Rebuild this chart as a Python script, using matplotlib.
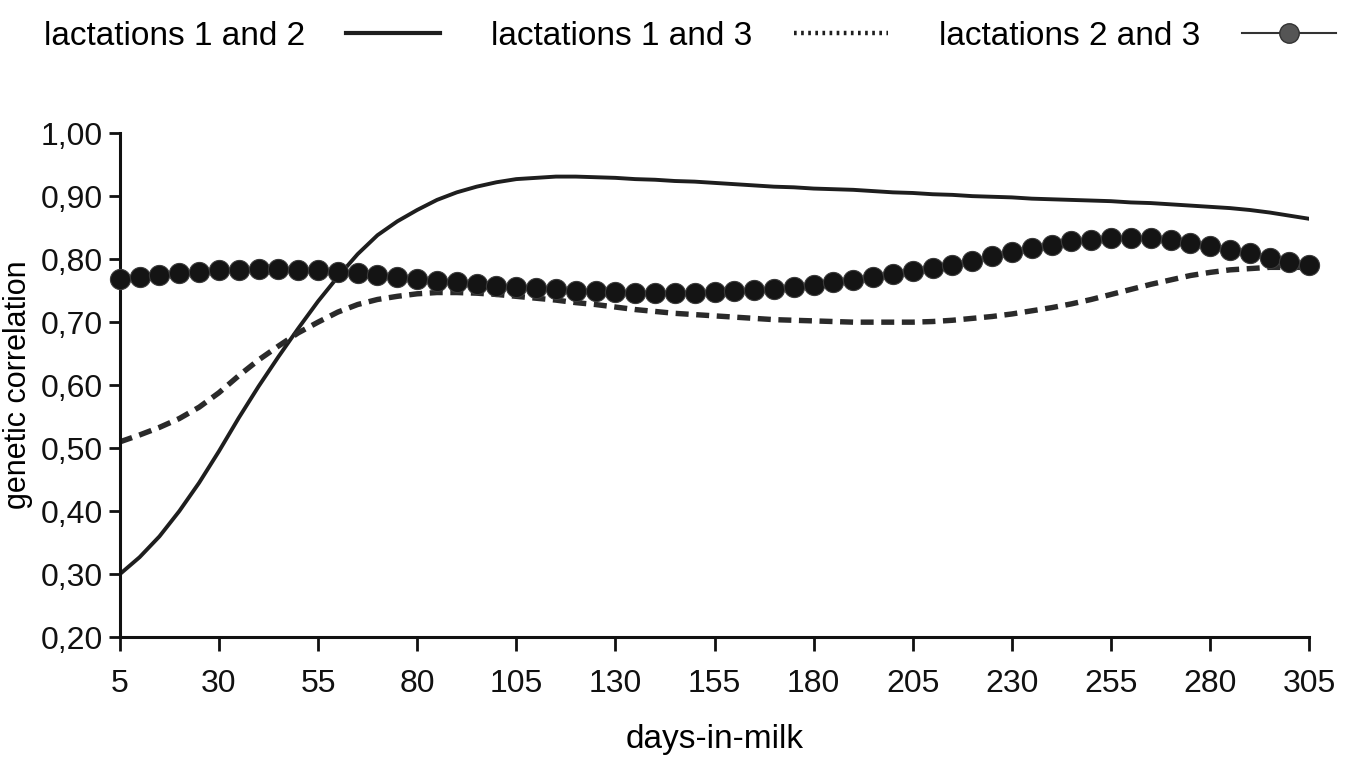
import matplotlib
matplotlib.use('Agg')
from matplotlib import pyplot as plt
from matplotlib.lines import Line2D

plt.rcParams['font.family'] = ['Liberation Sans', 'DejaVu Sans']

# days-in-milk, every 5 days
days = list(range(5, 306, 5))

# lactations 1 and 2 (solid)
lact_12 = [0.300, 0.327, 0.360, 0.400, 0.445, 0.495, 0.548, 0.598, 0.645, 0.690,
           0.733, 0.772, 0.808, 0.838, 0.860, 0.878, 0.894, 0.906, 0.915, 0.922,
           0.927, 0.929, 0.931, 0.931, 0.930, 0.929, 0.927, 0.926, 0.924, 0.923,
           0.921, 0.919, 0.917, 0.915, 0.914, 0.912, 0.911, 0.910, 0.908, 0.906,
           0.905, 0.903, 0.902, 0.900, 0.899, 0.898, 0.896, 0.895, 0.894, 0.893,
           0.892, 0.890, 0.889, 0.887, 0.885, 0.883, 0.881, 0.878, 0.874, 0.869,
           0.864]

# lactations 1 and 3 (dashed)
lact_13 = [0.510, 0.521, 0.533, 0.547, 0.565, 0.588, 0.615, 0.640, 0.662, 0.683,
           0.700, 0.716, 0.728, 0.736, 0.741, 0.745, 0.747, 0.747, 0.746, 0.744,
           0.741, 0.738, 0.735, 0.731, 0.728, 0.724, 0.720, 0.717, 0.714, 0.712,
           0.710, 0.708, 0.706, 0.704, 0.703, 0.702, 0.701, 0.700, 0.700, 0.700,
           0.700, 0.701, 0.703, 0.706, 0.709, 0.713, 0.718, 0.723, 0.729, 0.736,
           0.744, 0.752, 0.760, 0.767, 0.774, 0.779, 0.783, 0.785, 0.787, 0.787,
           0.787]

# lactations 2 and 3 (dots)
lact_23 = [0.768, 0.772, 0.775, 0.778, 0.780, 0.782, 0.783, 0.784, 0.784, 0.783,
           0.782, 0.780, 0.778, 0.775, 0.772, 0.769, 0.766, 0.763, 0.760, 0.758,
           0.756, 0.754, 0.752, 0.750, 0.749, 0.748, 0.747, 0.747, 0.747, 0.747,
           0.748, 0.749, 0.751, 0.753, 0.756, 0.759, 0.763, 0.767, 0.771, 0.776,
           0.781, 0.786, 0.791, 0.797, 0.805, 0.812, 0.818, 0.823, 0.828, 0.831,
           0.833, 0.834, 0.833, 0.830, 0.826, 0.821, 0.815, 0.809, 0.802, 0.796,
           0.790]

x_ticks = list(range(5, 306, 25))
y_ticks = [0.2, 0.3, 0.4, 0.5, 0.6, 0.7, 0.8, 0.9, 1.0]
y_labels = ['0,20', '0,30', '0,40', '0,50', '0,60', '0,70', '0,80', '0,90', '1,00']

fig = plt.figure(figsize=(13.61, 7.65), dpi=100)
ax = fig.add_axes([0.088, 0.167, 0.874, 0.659])

ax.plot(days, lact_12, color='#1e1e1e', lw=2.8, zorder=2)
ax.plot(days, lact_13, color='#2a2a2a', lw=3.9, dashes=(2.4, 1.4), zorder=2)
ax.plot(days, lact_23, color='#151515', lw=1.5, marker='o', markersize=14.5,
        markerfacecolor='#141414', markeredgecolor='#3a3a3a', markeredgewidth=0.8,
        clip_on=False, zorder=3)

ax.set_xlim(5, 305)
ax.set_ylim(0.2, 1.0)
ax.set_xticks(x_ticks)
ax.set_yticks(y_ticks)
ax.set_yticklabels(y_labels)

for s in ['top', 'right']:
    ax.spines[s].set_visible(False)
for s in ['left', 'bottom']:
    ax.spines[s].set_linewidth(2.2)
    ax.spines[s].set_color('#111111')

ax.tick_params(axis='x', direction='out', length=10, width=2, pad=13,
               labelsize=23, colors='#111111')
ax.tick_params(axis='y', direction='out', length=8, width=2, pad=4,
               labelsize=23, colors='#111111')

ax.set_xlabel('days-in-milk', fontsize=24, labelpad=18)
ax.set_ylabel('genetic correlation', fontsize=22, labelpad=6)

handles = [
    Line2D([], [], color='#1e1e1e', lw=3),
    Line2D([], [], color='#1e1e1e', lw=3.2, linestyle=(0, (0.6, 1.0))),
    Line2D([], [], color='#333333', lw=1.5, marker='o', markersize=14,
           markerfacecolor='#555555', markeredgecolor='#333333'),
]
labels = ['lactations 1 and 2', 'lactations 1 and 3', 'lactations 2 and 3']
fig.legend(handles, labels, loc='upper left', bbox_to_anchor=(0.01, 1.012),
           ncol=3, frameon=False, markerfirst=False, fontsize=24,
           handlelength=2.8, handletextpad=1.25, columnspacing=1.55)

fig.savefig('out.png', dpi=100, facecolor='white')
